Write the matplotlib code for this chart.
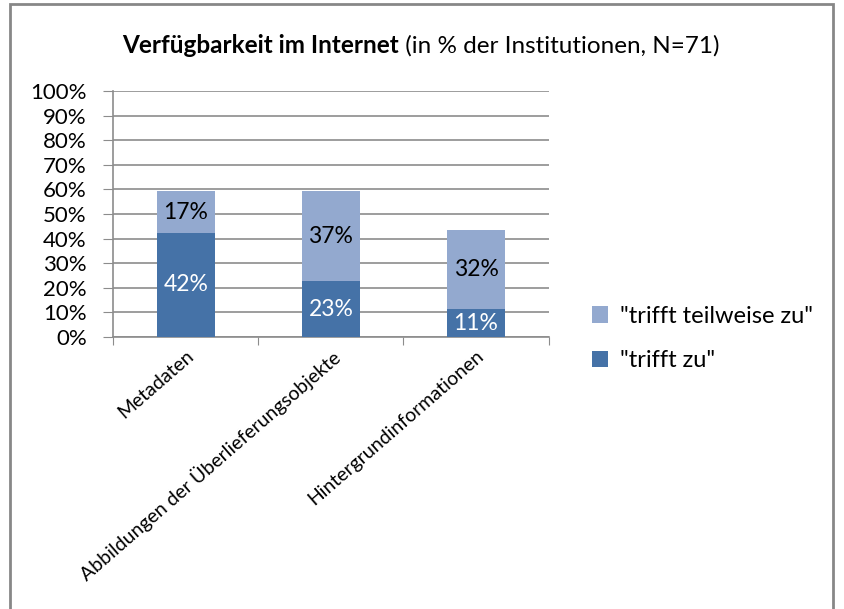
import matplotlib.pyplot as plt
import numpy as np

plt.rcParams['font.family'] = ['Lato', 'DejaVu Sans']

categories = ['Metadaten', 'Abbildungen der Überlieferungsobjekte', 'Hintergrundinformationen']
trifft_zu = [42.3, 22.6, 11.3]
teilweise = [16.9, 36.6, 32.4]
yticks = np.arange(0, 101, 10)

dark = '#4572A7'
light = '#93A9CF'
grid = '#8C8C8C'

fig = plt.figure(figsize=(8.44, 6.09), dpi=100)
ax = fig.add_axes([0.134, 0.4466, 0.516, 0.404])

x = np.arange(len(categories))
ax.bar(x, trifft_zu, width=0.4, color=dark, label='"trifft zu"', zorder=3)
ax.bar(x, teilweise, width=0.4, bottom=trifft_zu, color=light, label='"trifft teilweise zu"', zorder=3)

for i in range(len(x)):
    ax.text(x[i], trifft_zu[i] / 2, '%d%%' % round(trifft_zu[i]), ha='center', va='center',
            color='white', fontsize=16.5, zorder=4)
    ax.text(x[i], trifft_zu[i] + teilweise[i] / 2, '%d%%' % round(teilweise[i]), ha='center', va='center',
            color='black', fontsize=16.5, zorder=4)

ax.set_xlim(-0.5, len(x) - 0.5)
ax.set_ylim(0, 100)
ax.set_yticks(yticks)
ax.set_yticklabels(['%d%%' % v for v in yticks], fontsize=16)
ax.yaxis.grid(True, color=grid, linewidth=1.2, zorder=0)

# tick marks between categories, labels under the bars
ax.set_xticks(np.arange(len(x) + 1) - 0.5)
ax.set_xticklabels([])
ax.set_xticks(x, minor=True)
ax.set_xticklabels(categories, minor=True, rotation=41, ha='right', rotation_mode='anchor', fontsize=14)
ax.tick_params(axis='x', which='minor', length=0, pad=7)
ax.tick_params(axis='x', which='major', length=6, color=grid, direction='out')
ax.tick_params(axis='y', length=7, color=grid, direction='out', pad=12)

for s in ['top', 'right']:
    ax.spines[s].set_visible(False)
for s in ['left', 'bottom']:
    ax.spines[s].set_color(grid)
    ax.spines[s].set_linewidth(1.2)

handles, labels = ax.get_legend_handles_labels()
fig.legend(handles[::-1], labels[::-1], loc='center left', bbox_to_anchor=(0.676, 0.444),
           frameon=False, fontsize=17, handlelength=0.7, handleheight=0.7, handletextpad=0.5,
           labelspacing=1.0)

t1 = fig.text(0.145, 0.925, 'Verfügbarkeit im Internet', fontsize=17.5, fontweight='bold', va='center', ha='left')
fig.canvas.draw()
plt.annotate(' (in % der Institutionen, N=71)', xy=(1, 0.5), xycoords=t1, va='center', ha='left',
             fontsize=17.5, annotation_clip=False)

border = plt.Rectangle((10 / 844, -0.1), 823 / 844, 1.1 - 4 / 609, transform=fig.transFigure,
                       fill=False, edgecolor='#878787', linewidth=2)
fig.patches.append(border)

plt.savefig('out.png', dpi=100)
